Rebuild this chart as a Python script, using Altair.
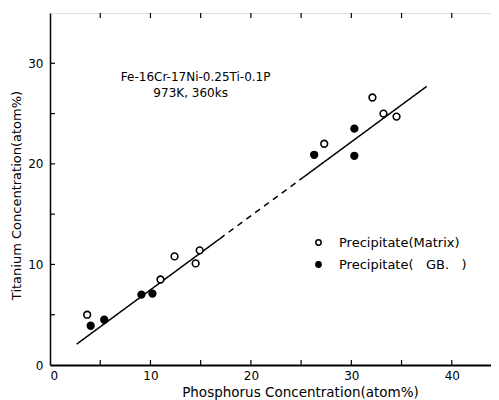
import altair as alt
import pandas as pd

# Data
matrix_p = [3.7, 11.0, 12.4, 14.5, 14.9, 27.3, 32.1, 33.2, 34.5]
matrix_ti = [5.0, 8.5, 10.8, 10.1, 11.4, 22.0, 26.6, 25.0, 24.7]
gb_p = [4.05, 5.4, 9.1, 10.2, 26.3, 30.3, 30.3]
gb_ti = [3.9, 4.5, 7.0, 7.1, 20.9, 23.5, 20.8]

LBL_M = "Precipitate(Matrix)"
LBL_G = "Precipitate(\u00a0\u00a0\u00a0GB.\u00a0\u00a0\u00a0)"

# fitted line: solid / dashed / solid
line_x = [2.65, 16.9, 16.9, 25.2, 25.2, 37.5]
line_y = [2.07, 12.55, 12.55, 18.65, 18.65, 27.7]
line_seg = ["a", "a", "b", "b", "c", "c"]
line_style = ["solid", "solid", "dashed", "dashed", "solid", "solid"]

x_ticks = [5, 10, 15, 20, 25, 30, 35, 40]
y_ticks = [5, 10, 15, 20, 25, 30]

note_text = ["Fe-16Cr-17Ni-0.25Ti-0.1P", "973K, 360ks"]
note_x = [14.5, 14.0]
note_y = [28.6, 27.0]

W, H = 452, 352
FONT = "DejaVu Sans"

pts = pd.DataFrame({
    "P": matrix_p + gb_p,
    "Ti": matrix_ti + gb_ti,
    "type": [LBL_M] * len(matrix_p) + [LBL_G] * len(gb_p),
})
line_df = pd.DataFrame({"P": line_x, "Ti": line_y, "seg": line_seg, "style": line_style})
xt = pd.DataFrame({"v": x_ticks})
yt = pd.DataFrame({"v": y_ticks})
notes = pd.DataFrame({"t": note_text, "x": note_x, "y": note_y})

xscale = alt.Scale(domain=[0, 45], nice=False, zero=False)
yscale = alt.Scale(domain=[0, 35], nice=False, zero=False)

xaxis = alt.Axis(values=[0, 10, 20, 30, 40], ticks=False, grid=False, domainColor="black",
                 domainWidth=1.8, labelFontSize=12, labelFont=FONT, labelColor="black",
                 labelPadding=5, title="Phosphorus Concentration(atom%)", titleFont=FONT,
                 titleFontSize=13.5, titleFontWeight="normal", titleColor="black",
                 titleX=250, titlePadding=4)
yaxis = alt.Axis(values=[0, 10, 20, 30], ticks=False, grid=False, domainColor="black",
                 domainWidth=1.5, labelFontSize=12, labelFont=FONT, labelColor="black",
                 labelPadding=7, title="Titanium Concentration(atom%)", titleFont=FONT,
                 titleFontSize=13, titleFontWeight="normal", titleColor="black",
                 titleY=182, titlePadding=4)

line = alt.Chart(line_df).mark_line(color="black", strokeWidth=1.5).encode(
    x=alt.X("P:Q", scale=xscale, axis=xaxis),
    y=alt.Y("Ti:Q", scale=yscale, axis=yaxis),
    detail="seg:N",
    strokeDash=alt.StrokeDash("style:N", scale=alt.Scale(domain=["solid", "dashed"],
                              range=[[1, 0], [6, 5]]), legend=None),
)

points = alt.Chart(pts).mark_point(shape="circle", size=45, stroke="black",
                                    strokeWidth=1.6, opacity=1, filled=False).encode(
    x=alt.X("P:Q", scale=xscale),
    y=alt.Y("Ti:Q", scale=yscale),
    fill=alt.Fill("type:N", scale=alt.Scale(domain=[LBL_M, LBL_G], range=["white", "black"]),
                  legend=alt.Legend(title=None, orient="none", legendX=262, legendY=223,
                                    symbolType="circle", symbolSize=28,
                                    symbolStrokeColor="black", symbolStrokeWidth=1.5,
                                    labelFont=FONT, labelFontSize=13, labelColor="black",
                                    labelOffset=14, rowPadding=8, padding=0)),
)

bottom_ticks = alt.Chart(xt).mark_rule(color="black", strokeWidth=1.2).encode(
    x=alt.X("v:Q", scale=xscale), y=alt.value(H), y2=alt.value(H - 5))
top_ticks = alt.Chart(xt).mark_rule(color="black", strokeWidth=1.2).encode(
    x=alt.X("v:Q", scale=xscale), y=alt.value(0), y2=alt.value(5))
left_ticks = alt.Chart(yt).mark_rule(color="black", strokeWidth=1.2).encode(
    y=alt.Y("v:Q", scale=yscale), x=alt.value(0), x2=alt.value(5))
right_ticks = alt.Chart(yt).mark_rule(color="black", strokeWidth=1.2).encode(
    y=alt.Y("v:Q", scale=yscale), x=alt.value(W), x2=alt.value(W - 5))

text = alt.Chart(notes).mark_text(font=FONT, fontSize=12, color="black", align="center",
                                   baseline="middle").encode(
    x=alt.X("x:Q", scale=xscale), y=alt.Y("y:Q", scale=yscale), text="t:N")

chart = alt.layer(line, points, bottom_ticks, top_ticks, left_ticks, right_ticks, text).properties(
    width=W, height=H,
    autosize=alt.AutoSizeParams(type="none"),
    padding={"left": 42, "top": 5, "right": -11, "bottom": 35},
).configure_view(stroke="black", strokeWidth=1.5).configure(background="white")

chart.save("out.html", embed_options={"renderer": "svg", "actions": False})
